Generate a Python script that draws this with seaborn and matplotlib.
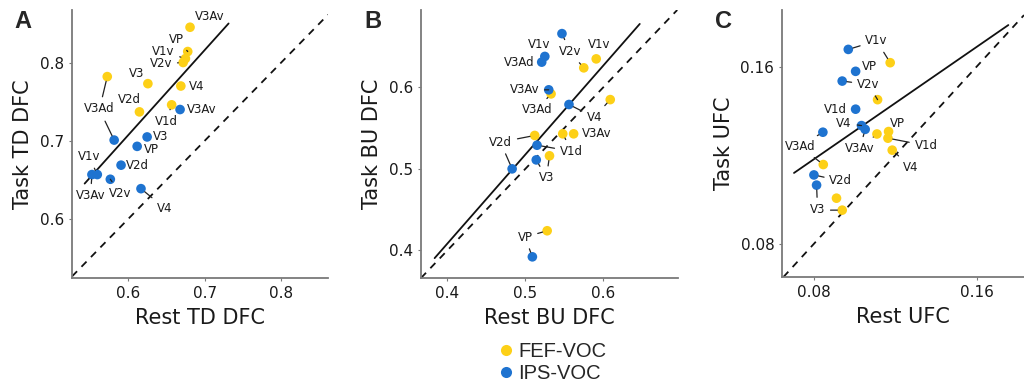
import numpy as np
import pandas as pd
import matplotlib
matplotlib.use("Agg")
import matplotlib.pyplot as plt
from matplotlib.lines import Line2D
import seaborn as sns

# ---------------- data ----------------
groups = ["FEF-VOC", "IPS-VOC"]
colors = {"FEF-VOC": "#FDD017", "IPS-VOC": "#1E73D0"}

# Panel A (TD DFC)
a_fef_regions = ["V3Av", "VP", "V1v", "V2v", "V3", "V4", "V3Ad", "V2d", "V1d"]
a_fef_rest = [0.681, 0.678, 0.675, 0.672, 0.626, 0.669, 0.573, 0.615, 0.657]
a_fef_task = [0.845, 0.814, 0.805, 0.800, 0.773, 0.770, 0.782, 0.737, 0.746]
a_ips_regions = ["V3Av", "V3Ad", "V3", "VP", "V2d", "V1v", "V3Av", "V2v", "V4"]
a_ips_rest = [0.668, 0.582, 0.625, 0.612, 0.591, 0.560, 0.553, 0.577, 0.617]
a_ips_task = [0.740, 0.701, 0.705, 0.693, 0.669, 0.657, 0.657, 0.651, 0.639]
a_fit_x = [0.5435, 0.7313]
a_fit_y = [0.6455, 0.8498]

# Panel B (BU DFC)
b_fef_regions = ["V1v", "V2v", "V3Ad", "V4", "V2d", "V1d", "V3Av", "V3", "VP"]
b_fef_rest = [0.591, 0.575, 0.533, 0.609, 0.512, 0.548, 0.562, 0.531, 0.528]
b_fef_task = [0.635, 0.624, 0.592, 0.585, 0.541, 0.543, 0.543, 0.516, 0.424]
b_ips_regions = ["V2v", "V1v", "V3Ad", "V3Av", "V4", "V1d", "V3", "V2d", "VP"]
b_ips_rest = [0.547, 0.525, 0.521, 0.530, 0.556, 0.515, 0.514, 0.483, 0.509]
b_ips_task = [0.666, 0.638, 0.631, 0.597, 0.579, 0.529, 0.511, 0.500, 0.392]
b_fit_x = [0.3835, 0.6469]
b_fit_y = [0.3904, 0.6779]

# Panel C (UFC)
c_fef_regions = ["V1v", "V2v", "VP", "V3Av", "V1d", "V4", "V3Ad", "V2d", "V3"]
c_fef_rest = [0.1175, 0.1113, 0.1167, 0.1110, 0.1164, 0.1185, 0.0846, 0.0911, 0.0939]
c_fef_task = [0.1618, 0.1451, 0.1307, 0.1296, 0.1277, 0.1223, 0.1158, 0.1006, 0.0952]
c_ips_regions = ["V1v", "VP", "V2v", "V1d", "V4", "V3Av", "V3Ad", "V2d", "V3"]
c_ips_rest = [0.0969, 0.1005, 0.0939, 0.1005, 0.1034, 0.1052, 0.0844, 0.0800, 0.0813]
c_ips_task = [0.1678, 0.1579, 0.1535, 0.1408, 0.1334, 0.1317, 0.1304, 0.1111, 0.1065]
c_fit_x = [0.0702, 0.1756]
c_fit_y = [0.1120, 0.1788]

panel_letters = ["A", "B", "C"]
x_labels = ["Rest TD DFC", "Rest BU DFC", "Rest UFC"]
y_labels = ["Task TD DFC", "Task BU DFC", "Task UFC"]

# ---------------- layout (label offsets in points: dx, dy, show text, leader line) -------------
a_fef_lab = [(14, 8, 1, 0), (-8, 9, 1, 1), (-16, 5, 1, 1), (-16, -1, 1, 1), (-8, 7, 1, 0),
             (11.5, 0, 1, 0), (-5.5, -23, 1, 1), (-7, 9, 1, 0), (-4, -12, 1, 1)]
a_ips_lab = [(15.5, 0, 1, 0), (-10.6, 22, 0, 1), (10, 0, 1, 0), (10, -2, 1, 0), (12, 0, 1, 0),
             (-6, 13, 1, 1), (-1, -15, 1, 1), (7, -10, 1, 1), (17, -14, 1, 1)]
b_fef_lab = [(2.4, 10.3, 1, 0), (-10.3, 11.8, 0, 1), (-10.3, -11.5, 1, 1), (-11.3, -12.5, 0, 1),
             (-24.5, -4.8, 0, 1), (6.5, -12.5, 0, 1), (16.6, 0, 1, 0), (-2.2, -15.8, 0, 1),
             (-16, -4.6, 0, 1)]
b_ips_lab = [(5.8, -12.7, 1, 1), (-4.1, 8.9, 1, 0), (-16, 0, 1, 0), (-17.5, 0, 1, 1),
             (18.5, -9.4, 1, 1), (24.7, -4.3, 1, 1), (7.4, -13, 1, 1), (-8.4, 19.2, 1, 1),
             (-5.3, 14.2, 1, 1)]
c_fef_lab = [(-9.8, 15.8, 0, 1), (-6.7, 11, 0, 1), (6.2, 6, 1, 0), (-12.2, -10.3, 0, 1),
             (27.4, -5.3, 1, 1), (13.4, -12.2, 1, 1), (-16.8, 13, 0, 1), (3.1, 12.5, 0, 0),
             (-17.8, 0, 0, 1)]
c_ips_lab = [(20.4, 6.2, 1, 1), (9.6, 3.4, 1, 0), (18.7, -2.4, 1, 1), (-14.9, 0, 1, 0),
             (-12.5, 1.7, 1, 1), (-3.8, -13.7, 1, 1), (-16.6, -10.3, 1, 1), (19.4, -4.3, 1, 1),
             (0.7, -17.3, 1, 1)]

panels = [
    dict(fef=(a_fef_regions, a_fef_rest, a_fef_task, a_fef_lab),
         ips=(a_ips_regions, a_ips_rest, a_ips_task, a_ips_lab),
         fit=(a_fit_x, a_fit_y), lim=((0.527, 0.861), (0.525, 0.867)),
         ticks=[0.6, 0.7, 0.8], fmt="{:.1f}",
         rect=[72 / 1024, 111 / 389, 256 / 1024, 268 / 389]),
    dict(fef=(b_fef_regions, b_fef_rest, b_fef_task, b_fef_lab),
         ips=(b_ips_regions, b_ips_rest, b_ips_task, b_ips_lab),
         fit=(b_fit_x, b_fit_y), lim=((0.366, 0.696), (0.366, 0.695)),
         ticks=[0.4, 0.5, 0.6], fmt="{:.1f}",
         rect=[421 / 1024, 111 / 389, 257 / 1024, 268 / 389]),
    dict(fef=(c_fef_regions, c_fef_rest, c_fef_task, c_fef_lab),
         ips=(c_ips_regions, c_ips_rest, c_ips_task, c_ips_lab),
         fit=(c_fit_x, c_fit_y), lim=((0.0643, 0.1833), (0.065, 0.1856)),
         ticks=[0.08, 0.16], fmt="{:.2f}",
         rect=[782 / 1024, 112 / 389, 242 / 1024, 267 / 389]),
]

sns.set_theme(style="white")
plt.rcParams["font.family"] = ["DejaVu Sans"]

fig = plt.figure(figsize=(10.24, 3.89), dpi=100)
spine_col = "#7a7a7a"

for i, p in enumerate(panels):
    ax = fig.add_axes(p["rect"])
    rows = []
    for g, key in zip(groups, ["fef", "ips"]):
        regs, xs, ys, _ = p[key]
        for r, x, y in zip(regs, xs, ys):
            rows.append(dict(region=r, rest=x, task=y, group=g))
    df = pd.DataFrame(rows)

    # identity line
    ax.axline((0, 0), slope=1, color="#111111", lw=1.3, ls=(0, (4, 3.5)), zorder=1)
    # fitted regression line
    sns.lineplot(x=p["fit"][0], y=p["fit"][1], ax=ax, color="#111111", lw=1.3, zorder=2)

    sns.scatterplot(data=df, x="rest", y="task", hue="group", palette=colors,
                    s=48, edgecolor="none", ax=ax, legend=False, zorder=3)

    for key in ["fef", "ips"]:
        regs, xs, ys, labs = p[key]
        for r, x, y, (dx, dy, show, line) in zip(regs, xs, ys, labs):
            ap = dict(arrowstyle="-", color="#222222", lw=0.9, shrinkA=1.5, shrinkB=3.5) if line else None
            ax.annotate(r, xy=(x, y), xytext=(dx, dy), textcoords="offset points",
                        ha="center", va="center", fontsize=8.5,
                        color="#1a1a1a" if show else (0, 0, 0, 0),
                        arrowprops=ap, zorder=4)

    ax.set_xlim(*p["lim"][0])
    ax.set_ylim(*p["lim"][1])
    ax.set_xticks(p["ticks"])
    ax.set_yticks(p["ticks"])
    ax.set_xticklabels([p["fmt"].format(t) for t in p["ticks"]])
    ax.set_yticklabels([p["fmt"].format(t) for t in p["ticks"]])
    ax.tick_params(axis="both", which="both", length=2.5, width=0.8, color=spine_col,
                   labelsize=11, labelcolor="#1a1a1a", pad=3, bottom=True, left=True)
    for s in ["top", "right"]:
        ax.spines[s].set_visible(False)
    for s in ["left", "bottom"]:
        ax.spines[s].set_color(spine_col)
        ax.spines[s].set_linewidth(1.3)
    ax.set_xlabel(x_labels[i], fontsize=15, color="#1a1a1a", labelpad=5)
    ax.set_ylabel(y_labels[i], fontsize=15, color="#1a1a1a", labelpad=5)
    ax.grid(False)

# panel letters
for letter, xpix in zip(panel_letters, [23, 373, 723]):
    fig.text(xpix / 1024, 1 - 22 / 389, letter, fontsize=17, fontweight="bold",
             family=["Liberation Sans", "DejaVu Sans"], ha="center", va="center")

# legend
handles = [Line2D([0], [0], marker="o", ls="none", markersize=8, markeredgewidth=0,
                  markerfacecolor=colors[g]) for g in groups]
fig.legend(handles, groups, loc="upper left", bbox_to_anchor=(500 / 1024, 1 - 342 / 389),
           frameon=False, handlelength=0.6, handletextpad=0.3, labelspacing=0.15,
           borderpad=0, borderaxespad=0,
           prop={"family": ["Liberation Sans", "DejaVu Sans"], "size": 14.5})

fig.savefig("out.png", dpi=100)
